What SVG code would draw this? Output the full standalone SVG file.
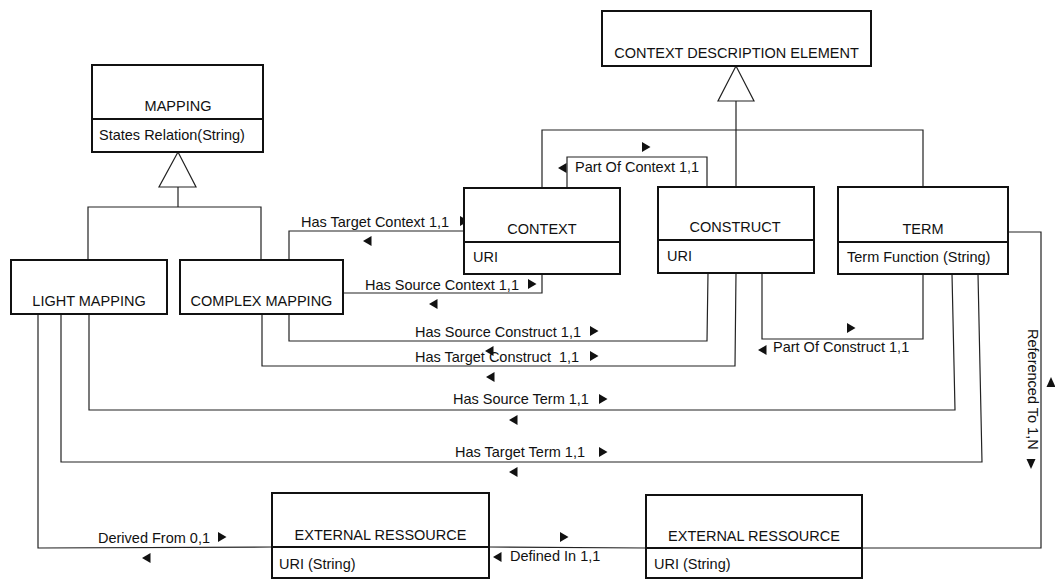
<svg xmlns="http://www.w3.org/2000/svg" xmlns:xlink="http://www.w3.org/1999/xlink" width="1055" height="580" viewBox="0 0 1055 580">
<style>
text{font-family:"Liberation Sans",Arial,Helvetica,sans-serif;font-size:14.5px;fill:#111}
.box{fill:#fff;stroke:#111;stroke-width:2}
.div{stroke:#111;stroke-width:2}
.c{fill:none;stroke:#222;stroke-width:1.2}
.gen{fill:#fff;stroke:#222;stroke-width:1.2}
.mid{text-anchor:middle}
.ah{fill:#111}
</style>
<defs>
<path id="r" class="ah" d="M0,-5 L8.5,0 L0,5Z"/>
<path id="l" class="ah" d="M8.5,-5 L0,0 L8.5,5Z"/>
<path id="u" class="ah" d="M-4.5,5 L0,-5 L4.5,5Z"/>
<path id="d" class="ah" d="M-4.5,-5 L0,5 L4.5,-5Z"/>
</defs>
<rect width="1055" height="580" fill="#fff"/>
<g id="connectors">
<polygon class="gen" points="178,152 159,187 196,187"/>
<path class="c" d="M178,187 V207 M88,260 V207 H261 V260"/>
<polygon class="gen" points="736,66 718,101 754,101"/>
<path class="c" d="M736,101 V187 M542,188 V130 H923 V187"/>
<polyline class="c" points="289,260 289,231 464,231"/>
<polyline class="c" points="343,293 542,293 542,274"/>
<polyline class="c" points="567,188 567,157 707,157 707,187"/>
<polyline class="c" points="289,310 289,341 707,341 708,273"/>
<polyline class="c" points="262,314 262,366 735,366 736,273"/>
<polyline class="c" points="762,273 762,339 923,339 923,274"/>
<polyline class="c" points="89,314 89,410 955,410 952,274"/>
<polyline class="c" points="61,314 61,462 982,462 978,274"/>
<polyline class="c" points="38,314 38,548 272,547"/>
<polyline class="c" points="489,547 646,548"/>
<polyline class="c" points="1008,232 1041,232 1041,548 862,548"/>
<text x="301" y="227">Has Target Context 1,1</text>
<use xlink:href="#r" x="460" y="221"/>
<use xlink:href="#l" x="363" y="241"/>
<text x="365" y="289.5">Has Source Context 1,1</text>
<use xlink:href="#r" x="528" y="284"/>
<use xlink:href="#l" x="429" y="304"/>
<text x="575" y="171.5">Part Of Context 1,1</text>
<use xlink:href="#r" x="642" y="147"/>
<use xlink:href="#l" x="558" y="168"/>
<text x="415" y="337">Has Source Construct 1,1</text>
<use xlink:href="#r" x="590" y="331"/>
<use xlink:href="#l" x="485" y="351"/>
<text x="415" y="362" xml:space="preserve">Has Target Construct  1,1</text>
<use xlink:href="#r" x="590" y="356"/>
<use xlink:href="#l" x="486" y="377"/>
<text x="773" y="352">Part Of Construct 1,1</text>
<use xlink:href="#r" x="847" y="328"/>
<use xlink:href="#l" x="758" y="350"/>
<text x="453" y="404">Has Source Term 1,1</text>
<use xlink:href="#r" x="599" y="399"/>
<use xlink:href="#l" x="509" y="420"/>
<text x="455" y="457">Has Target Term 1,1</text>
<use xlink:href="#r" x="599" y="452"/>
<use xlink:href="#l" x="509" y="472"/>
<text x="98" y="543">Derived From 0,1</text>
<use xlink:href="#r" x="218" y="537"/>
<use xlink:href="#l" x="142" y="558"/>
<text x="510" y="561">Defined In 1,1</text>
<use xlink:href="#r" x="560" y="537"/>
<use xlink:href="#l" x="493" y="557"/>
<text transform="translate(1027.5,329) rotate(90)">Referenced To 1,N</text>
<use xlink:href="#u" x="1051" y="382"/>
<use xlink:href="#d" x="1031" y="464"/>
</g>
<g id="mapping">
<rect class="box" x="92" y="65" width="171" height="87"/>
<line class="div" x1="92" y1="119" x2="263" y2="119"/>
<text class="mid" x="178" y="111">MAPPING</text>
<text x="99" y="140">States Relation(String)</text>
</g>
<g id="light-mapping">
<rect class="box" x="11" y="260" width="156" height="54"/>
<text class="mid" x="89" y="306">LIGHT MAPPING</text>
</g>
<g id="complex-mapping">
<rect class="box" x="180" y="260" width="163" height="54"/>
<text class="mid" x="261.5" y="306">COMPLEX MAPPING</text>
</g>
<g id="context-description-element">
<rect class="box" x="602" y="11" width="269" height="55"/>
<text class="mid" x="736.5" y="57.5">CONTEXT DESCRIPTION ELEMENT</text>
</g>
<g id="context">
<rect class="box" x="464" y="188" width="156" height="86"/>
<line class="div" x1="464" y1="242" x2="620" y2="242"/>
<text class="mid" x="542" y="234">CONTEXT</text>
<text x="473" y="262">URI</text>
</g>
<g id="construct">
<rect class="box" x="658" y="187" width="156" height="86"/>
<line class="div" x1="658" y1="240" x2="814" y2="240"/>
<text class="mid" x="735" y="232">CONSTRUCT</text>
<text x="667" y="261">URI</text>
</g>
<g id="term">
<rect class="box" x="838" y="187" width="170" height="87"/>
<line class="div" x1="838" y1="242" x2="1008" y2="242"/>
<text class="mid" x="923" y="234">TERM</text>
<text x="847" y="261.5">Term Function (String)</text>
</g>
<g id="external-ressource-1">
<rect class="box" x="272" y="493" width="217" height="85"/>
<line class="div" x1="272" y1="547" x2="489" y2="547"/>
<text class="mid" x="380.5" y="540">EXTERNAL RESSOURCE</text>
<text x="279" y="569">URI (String)</text>
</g>
<g id="external-ressource-2">
<rect class="box" x="646" y="495" width="216" height="83"/>
<line class="div" x1="646" y1="548" x2="862" y2="548"/>
<text class="mid" x="754" y="541">EXTERNAL RESSOURCE</text>
<text x="654" y="569">URI (String)</text>
</g>
</svg>
